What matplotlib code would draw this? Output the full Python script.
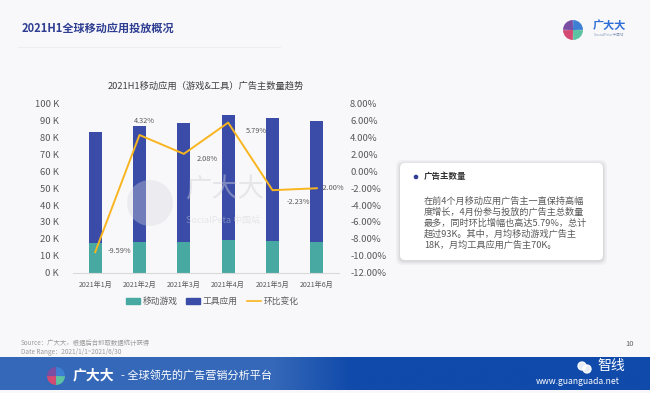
import matplotlib
matplotlib.use("Agg")
import matplotlib.pyplot as plt
import numpy as np
from matplotlib.patches import FancyBboxPatch, Rectangle, Wedge, Circle
from matplotlib.lines import Line2D

plt.rcParams['font.family'] = ['Noto Sans CJK SC', 'DejaVu Sans']

# ---------------- data ----------------
months = ["2021年1月", "2021年2月", "2021年3月", "2021年4月", "2021年5月", "2021年6月"]
games = [17300, 18000, 18100, 19200, 18600, 18200]
tools = [65800, 68700, 70600, 74400, 73100, 71500]
mom_change = [-9.59, 4.32, 2.08, 5.79, -2.23, -2.00]
left_ticks = [0, 10000, 20000, 30000, 40000, 50000, 60000, 70000, 80000, 90000, 100000]
left_labels = ["0 K", "10 K", "20 K", "30 K", "40 K", "50 K", "60 K", "70 K", "80 K", "90 K", "100 K"]
right_ticks = [-12, -10, -8, -6, -4, -2, 0, 2, 4, 6, 8]
right_labels = ["-12.00%", "-10.00%", "-8.00%", "-6.00%", "-4.00%", "-2.00%", "0.00%", "2.00%", "4.00%", "6.00%", "8.00%"]
series_names = ["移动游戏", "工具应用", "环比变化"]
chart_title = "2021H1移动应用（游戏&工具）广告主数量趋势"
page_title = "2021H1全球移动应用投放概况"
box_title = "广告主数量"
box_lines = ["在前4个月移动应用广告主一直保持高幅",
             "度增长，4月份参与投放的广告主总数量",
             "最多，同时环比增幅也高达5.79%，总计",
             "超过93K。其中，月均移动游戏广告主",
             "18K，月均工具应用广告主70K。"]
# label offsets in pixels (dx, dy up)
label_offsets = [(12, 1), (5, 14), (13, -5), (18, -8), (14, -12), (4, 0)]
label_ha = ["left", "center", "left", "left", "left", "left"]

W, H = 650, 393
BG = "#f8f8fa"
TEAL = "#47a9a1"
BLUE = "#3a4ca8"
LINE = "#f8b51f"
GRAY = "#595959"
# logo quadrant colours (bottom-right, bottom-left, top-left, top-right in y-down coords)
LOGO_COLS = ["#5cc2a2", "#d44a73", "#7a4ea3", "#3d7fd3"]

fig = plt.figure(figsize=(6.5, 3.93), dpi=100, facecolor=BG)

def P(x, y):
    return (x / W, 1 - y / H)

def overlay(z):
    a = fig.add_axes([0, 0, 1, 1], facecolor='none', zorder=z)
    a.set_xlim(0, W); a.set_ylim(H, 0); a.axis('off')
    return a

def draw_logo(a, cx, cy, r):
    for i, c in enumerate(LOGO_COLS):
        a.add_patch(Wedge((cx, cy), r, i * 90 + 1, i * 90 + 89, color=c, lw=0))

# ---- page title
fig.text(*P(22, 28), page_title, fontsize=8.0, fontweight='bold', color="#2e3d92",
         va='center', ha='left')
fig.add_artist(Line2D([18 / W, 280 / W], [1 - 47 / H] * 2, color="#eeeef2", lw=0.8))

# ---- top-right logo
ax_top = overlay(3)
draw_logo(ax_top, 573, 30, 10)
fig.text(*P(593, 25), "广大大", fontsize=8, fontweight='bold', color="#2f6ed6", va='center', ha='left')
fig.text(*P(594, 34.5), "SocialPeta 中国站", fontsize=2.6, color="#8a9ab8", va='center', ha='left')

# ---- chart
ax = fig.add_axes([73 / W, 1 - 272.5 / H, (339 - 73) / W, (272.5 - 104) / H], facecolor='none')
x = np.arange(len(months))
bw = 0.3
ax.bar(x, games, bw, color=TEAL, label=series_names[0], zorder=2)
ax.bar(x, tools, bw, bottom=games, color=BLUE, label=series_names[1], zorder=2)
ax.set_xlim(-0.5, len(months) - 0.5)
ax.set_ylim(0, 100000)
ax.set_yticks(left_ticks)
ax.set_yticklabels(left_labels, fontsize=6.8, color=GRAY)
ax.set_xticks(x)
ax.set_xticklabels(months, fontsize=5.1, color=GRAY)
ax.tick_params(axis='both', length=0)
ax.tick_params(axis='y', pad=10)
ax.tick_params(axis='x', pad=6)
for s in ['top', 'right', 'left']:
    ax.spines[s].set_visible(False)
ax.spines['bottom'].set_color("#d9d9d9")
ax.spines['bottom'].set_linewidth(0.8)

ax2 = ax.twinx()
ax2.plot(x, mom_change, color=LINE, lw=1.4, zorder=3, label=series_names[2])
ax2.set_ylim(-12, 8)
ax2.set_yticks(right_ticks)
ax2.set_yticklabels(right_labels, fontsize=6.8, color=GRAY)
ax2.tick_params(axis='y', length=0, pad=8)
for s in ['top', 'right', 'left', 'bottom']:
    ax2.spines[s].set_visible(False)

for i, v in enumerate(mom_change):
    dx, dy = label_offsets[i]
    ax2.annotate(f"{v:.2f}%", (x[i], v), xytext=(dx * 0.72, dy * 0.72), textcoords='offset points',
                 fontsize=5.3, color=GRAY, ha=label_ha[i], va='center', zorder=4)

ax.set_title(chart_title, fontsize=6.7, color="#404040", pad=11)

handles = [Rectangle((0, 0), 1, 1, color=TEAL), Rectangle((0, 0), 1, 1, color=BLUE),
           Line2D([0], [0], color=LINE, lw=1.2)]
fig.legend(handles, series_names, loc='center', bbox_to_anchor=(212 / W, 1 - 301.5 / H),
           ncol=3, frameon=False, fontsize=6.3, handlelength=1.6, handleheight=0.55,
           columnspacing=1.0, handletextpad=0.3, labelcolor=GRAY)

# ---- watermark
ax_w = overlay(5)
ax_w.add_patch(Circle((150, 203), 23, color="#d8d8e0", alpha=0.35, lw=0))
ax_w.text(186, 190, "广大大", fontsize=19, color="#d0d0d8", alpha=0.45, va='center', ha='left')
ax_w.text(186, 221, "SocialPeta 中国站", fontsize=6.5, color="#d0d0d8", alpha=0.45, va='center', ha='left')

# ---- right text box
ax_b = overlay(1)
for k, a in [(4, 0.03), (2.5, 0.04), (1.2, 0.05)]:
    ax_b.add_patch(FancyBboxPatch((400 - k, 163 - k + 1), 203 + 2 * k, 97 + 2 * k,
                                  boxstyle="round,pad=0,rounding_size=6", fc="#000000", alpha=a, lw=0))
ax_b.add_patch(FancyBboxPatch((400, 163), 203, 97, boxstyle="round,pad=0,rounding_size=5",
                              fc="white", ec="none"))
ax_b.add_patch(Circle((416, 177), 1.6, color="#2e3d92"))
ax_b.text(424, 177, box_title, fontsize=6.1, fontweight='bold', color="#333333", va='center', ha='left')
for i, line in enumerate(box_lines):
    ax_b.text(424, 201 + i * 11.1, line, fontsize=6.6, color=GRAY, va='center', ha='left')

# ---- source
fig.text(*P(21, 342.5), "Source：广大大，根据后台抓取数据统计获得", fontsize=4.6, color="#9a9a9a", va='center')
fig.text(*P(21, 351.5), "Date Range：2021/1/1~2021/6/30", fontsize=4.6, color="#9a9a9a", va='center')
fig.text(*P(630, 344), "10", fontsize=5.5, color="#666666", va='center', ha='center')

# ---- footer band
ax_f = fig.add_axes([0, 1 - 390 / H, 1, (390 - 357) / H], zorder=2)
ax_f.axis('off')
grad = np.linspace(0, 1, 256)
c1 = np.array([0x35, 0x68, 0xb8]) / 255
c2 = np.array([0x10, 0x4a, 0xaa]) / 255
t = np.clip((grad - 0.42) / 0.12, 0, 1)
img = (c1[None, :] * (1 - t[:, None]) + c2[None, :] * t[:, None])[None, :, :]
ax_f.imshow(img, aspect='auto', extent=[0, 1, 0, 1])
ax_f.set_xlim(0, 1); ax_f.set_ylim(0, 1)

ax_o = overlay(6)
draw_logo(ax_o, 56, 376, 9)
ax_o.text(73, 375.5, "广大大", fontsize=10, fontweight='bold', color="white", va='center', ha='left')
ax_o.text(121, 375.5, "- 全球领先的广告营销分析平台", fontsize=8, color="white", va='center', ha='left')
ax_o.text(597, 366, "智线", fontsize=10, color="white", va='center', ha='left')
ax_o.add_patch(Circle((582, 366), 4, color="white", alpha=0.9))
ax_o.add_patch(Circle((587, 369), 4, color="white", alpha=0.9))
ax_o.text(578, 382, "www.guanguada.net", fontsize=6.2, color="white", va='center', ha='center')

fig.savefig("out.png", dpi=100, facecolor=BG)
